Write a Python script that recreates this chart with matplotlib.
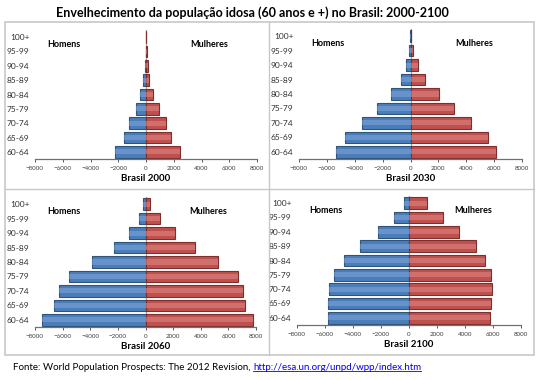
import matplotlib.pyplot as plt
from matplotlib.patches import Rectangle
from matplotlib.lines import Line2D

# Age groups, bottom to top
ages = ['60-64', '65-69', '70-74', '75-79', '80-84', '85-89', '90-94', '95-99', '100+']

# Population in thousands
men_2000 = [2200, 1560, 1200, 700, 400, 220, 90, 35, 10]
women_2000 = [2480, 1830, 1440, 910, 500, 240, 110, 40, 12]
men_2030 = [5360, 4700, 3460, 2380, 1390, 650, 290, 120, 30]
women_2030 = [6150, 5580, 4330, 3150, 2040, 1060, 550, 200, 50]
men_2060 = [7480, 6660, 6270, 5550, 3870, 2310, 1230, 500, 170]
women_2060 = [7790, 7190, 7070, 6700, 5240, 3580, 2160, 1060, 340]
men_2100 = [5820, 5820, 5720, 5360, 4660, 3530, 2240, 1100, 380]
women_2100 = [5770, 5870, 5960, 5870, 5460, 4760, 3580, 2400, 1270]

panels = [
    ('Brasil 2000', men_2000, women_2000),
    ('Brasil 2030', men_2030, women_2030),
    ('Brasil 2060', men_2060, women_2060),
    ('Brasil 2100', men_2100, women_2100),
]

# plot areas in pixels: left, top, right, bottom
boxes = [(35, 30, 257, 159), (299, 29, 522, 159),
         (35, 197, 256, 327), (297, 196, 521, 325)]

W, H = 540, 380
FONT = 'Lato'
plt.rcParams['font.family'] = [FONT, 'DejaVu Sans']

fig = plt.figure(figsize=(W / 100, H / 100), dpi=100)


def px(x, y):
    return x / W, 1 - y / H


# Frame of the four panels
fig.patches.append(Rectangle(px(5, 355), (534 - 5) / W, (355 - 22) / H,
                             transform=fig.transFigure, fill=False,
                             edgecolor='#c8c8c8', lw=1.2, zorder=0))
fig.lines.append(Line2D([269 / W, 269 / W], [1 - 22 / H, 1 - 355 / H],
                        transform=fig.transFigure, color='#c8c8c8', lw=1))
fig.lines.append(Line2D([5 / W, 534 / W], [1 - 189 / H, 1 - 189 / H],
                        transform=fig.transFigure, color='#c8c8c8', lw=1))

for (title, men, women), (l, t, r, b) in zip(panels, boxes):
    ax = fig.add_axes([l / W, 1 - b / H, (r - l) / W, (b - t) / H])
    y = range(len(ages))
    neg = [-m for m in men]
    # base bars
    ax.barh(y, neg, height=0.8, color='#4a7ebb', edgecolor='#2f5379', lw=0.8, zorder=2)
    ax.barh(y, women, height=0.8, color='#c0504d', edgecolor='#7d2f2d', lw=0.8, zorder=2)
    # lighter highlight band for the bevelled look
    ax.barh(y, neg, height=0.35, color='#7fa6d8', lw=0, zorder=3, alpha=0.55)
    ax.barh(y, women, height=0.35, color='#e08a88', lw=0, zorder=3, alpha=0.55)
    ax.axvline(0, color='#a0a0a0', lw=0.9, zorder=1)

    ax.set_xlim(-8000, 8000)
    ax.set_ylim(-0.5, len(ages) - 0.5)
    ax.set_xticks(range(-8000, 8001, 2000))
    ax.tick_params(axis='x', labelsize=4.5, length=2, width=0.6,
                   colors='#404040', pad=3)
    ax.set_yticks(list(y))
    ax.set_yticklabels(ages, fontsize=6)
    ax.tick_params(axis='y', length=0, pad=4, labelcolor='#303030')
    for s in ['top', 'left', 'right']:
        ax.spines[s].set_visible(False)
    ax.spines['bottom'].set_color('#707070')
    ax.spines['bottom'].set_linewidth(0.9)
    ax.set_xlabel(title, fontsize=7, fontweight='bold', labelpad=2)
    ax.text(0.055, 0.89, 'Homens', transform=ax.transAxes, fontsize=6.5,
            fontweight='bold', ha='left', va='center')
    ax.text(0.70, 0.89, 'Mulheres', transform=ax.transAxes, fontsize=6.5,
            fontweight='bold', ha='left', va='center')

fig.text(*px(252, 13), 'Envelhecimento da população idosa (60 anos e +) no Brasil: 2000-2100',
         ha='center', va='center', fontsize=9, fontweight='bold')

src = fig.text(*px(13, 367), 'Fonte: World Population Prospects: The 2012 Revision, ',
               ha='left', va='center', fontsize=7)
fig.canvas.draw()
r = fig.canvas.get_renderer()
bb = src.get_window_extent(r)
url = fig.text(bb.x1 / W, 1 - 367 / H, 'http://esa.un.org/unpd/wpp/index.htm',
               ha='left', va='center', fontsize=7, color='#0000ee')
ub = url.get_window_extent(r)
fig.lines.append(Line2D([ub.x0 / W, ub.x1 / W], [(ub.y0 + 1) / H] * 2,
                        transform=fig.transFigure, color='#0000ee', lw=0.6))

fig.savefig('out.png', dpi=100)
